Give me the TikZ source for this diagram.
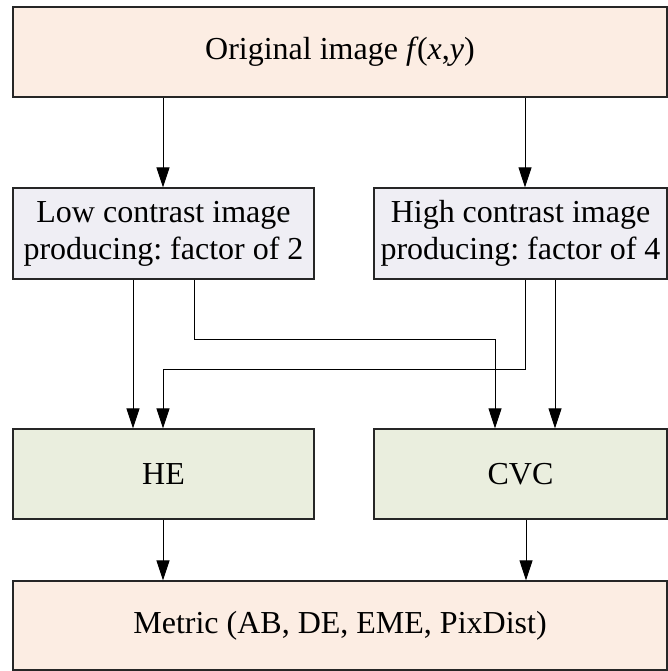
\documentclass[tikz,border=0pt]{standalone}
\usepackage{fontspec}
\setmainfont{Liberation Serif}
\usetikzlibrary{arrows.meta}
\definecolor{peach}{HTML}{FCEDE3}
\definecolor{lav}{HTML}{EFEEF4}
\definecolor{sage}{HTML}{EAEEDE}
\begin{document}
\frenchspacing
\begin{tikzpicture}[x=1pt,y=-1pt,
  box/.style={draw=black!85, line width=1.3pt, inner sep=0pt, align=center,
    font=\fontsize{32}{37}\selectfont},
  arr/.style={draw=black, line width=1pt, -{Triangle[length=20pt,width=13pt]}}]
\useasboundingbox (0,0) rectangle (667,671);
\node[box, fill=peach, minimum width=654pt, minimum height=90pt] (orig) at (340,52) {Original image \textit{f}\kern-1.5pt(\textit{x},\textit{y})};
\node[box, fill=lav, minimum width=301pt, minimum height=91pt] (lowc) at (163.5,233.5) {Low contrast image\\producing: factor of 2};
\node[box, fill=lav, minimum width=293pt, minimum height=91pt] (highc) at (520.5,233.5) {High contrast image\\producing: factor of 4};
\node[box, fill=sage, minimum width=301pt, minimum height=90pt] (he) at (163.5,474) {HE};
\node[box, fill=sage, minimum width=293pt, minimum height=90pt] (cvc) at (520.5,474) {CVC};
\node[box, fill=peach, minimum width=654pt, minimum height=89pt] (metric) at (340,625.5) {Metric (AB, DE, EME, PixDist)};
\draw[arr] (orig.south -| 163,0) -- (lowc.north -| 163,0);
\draw[arr] (orig.south -| 525,0) -- (highc.north -| 525,0);
\draw[arr] (lowc.south -| 133,0) -- (he.north -| 133,0);
\draw[arr] (lowc.south -| 194,0) -- (194,339) -- (495,339) -- (cvc.north -| 495,0);
\draw[arr] (highc.south -| 525,0) -- (525,369) -- (163,369) -- (he.north -| 163,0);
\draw[arr] (highc.south -| 555,0) -- (cvc.north -| 555,0);
\draw[arr] (he.south -| 163,0) -- (metric.north -| 163,0);
\draw[arr] (cvc.south -| 526,0) -- (metric.north -| 526,0);
\end{tikzpicture}
\end{document}
